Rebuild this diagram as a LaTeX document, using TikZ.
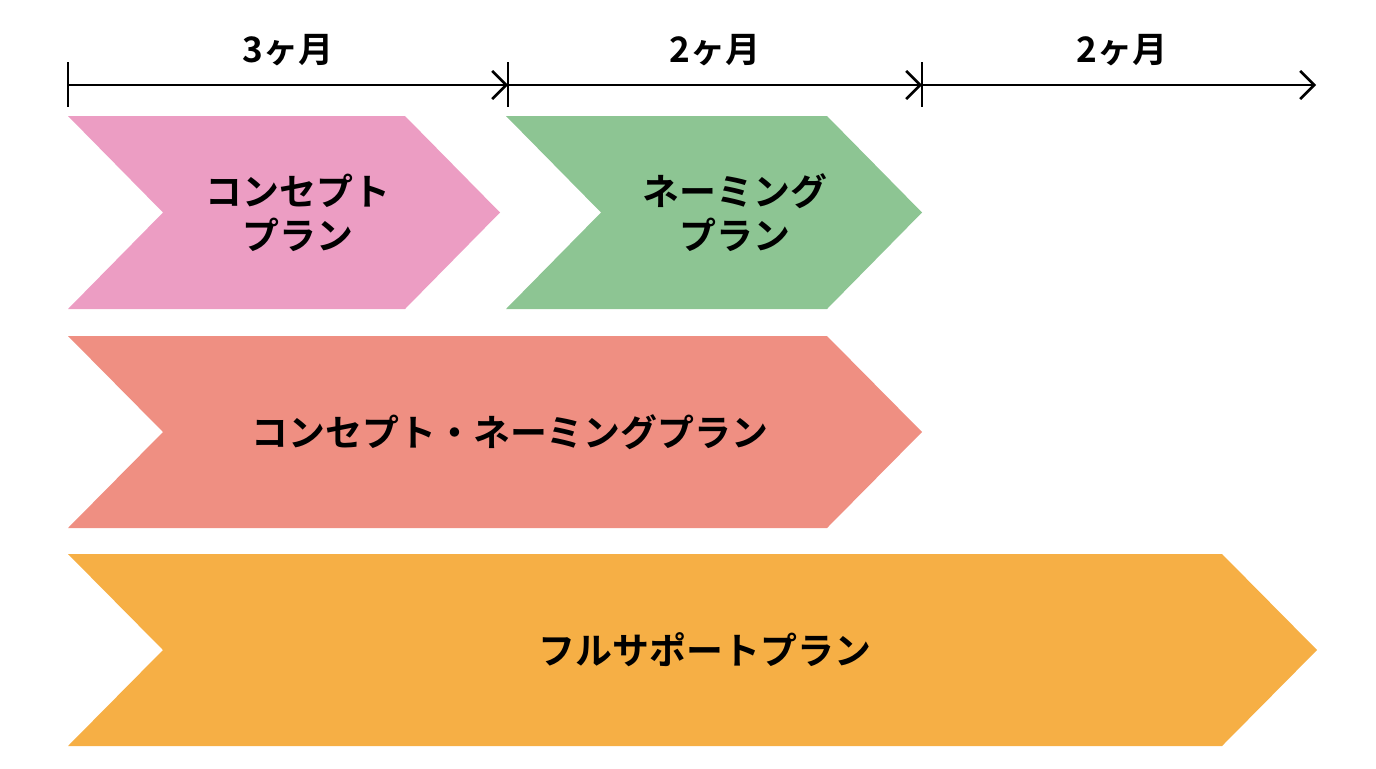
\documentclass[tikz,border=0pt]{standalone}
\usepackage{fontspec}
\newfontfamily\jpfont{Noto Sans CJK JP}[BoldFont={* Bold}]
\usetikzlibrary{arrows.meta,positioning}
\definecolor{planpink}{HTML}{EC9DC3}
\definecolor{plangreen}{HTML}{8DC593}
\definecolor{plansalmon}{HTML}{EF8F82}
\definecolor{planorange}{HTML}{F6AF45}
\tikzset{
  planlabel/.style={font=\jpfont\bfseries\fontsize{21}{25}\selectfont, align=center, text=black},
  monthlabel/.style={font=\jpfont\bfseries\fontsize{20}{24}\selectfont},
  timeline/.style={line width=1.5pt, -{Straight Barb[length=8pt,width=16pt]}}
}
% chevron: left, right corner, top, bottom, colour
\newcommand{\planchevron}[5]{%
  \fill[#5] (#1,#3) -- (#2,#3) -- ({#2+95},{(#3+#4)/2}) -- (#2,#4) -- (#1,#4)
    -- ({#1+95},{(#3+#4)/2}) -- cycle;}
\begin{document}
\begin{tikzpicture}[x=0.02cm,y=-0.02cm]
\useasboundingbox (0,0) rectangle (1376,768);
% time line
\coordinate (t0) at (68,85);
\coordinate (t1) at (508,85);
\coordinate (t2) at (922,85);
\coordinate (t3) at (1316,85);
\draw[timeline] (t0) -- (t1);
\draw[timeline] (t1) -- (t2);
\draw[timeline] (t2) -- (t3);
\draw[line width=1.5pt] (68,62) -- (68,107);
\draw[line width=1.5pt] (508,62) -- (508,107);
\draw[line width=1.5pt] (922,62) -- (922,107);
\node[monthlabel] (m1) at (288,50) {3ヶ月};
\node[monthlabel] (m2) at (715,50) {2ヶ月};
\node[monthlabel] (m3) at (1122,50) {2ヶ月};
% plans
\planchevron{68}{405}{116}{309}{planpink}
\planchevron{506}{827}{116}{309}{plangreen}
\planchevron{68}{827}{336}{528}{plansalmon}
\planchevron{68}{1222}{554}{746}{planorange}
\node[planlabel] (concept) at (298,213) {コンセプト\\プラン};
\node[planlabel] (naming) at (735,213) {ネーミング\\プラン};
\node[planlabel] (both) at (510,432) {コンセプト・ネーミングプラン};
\node[planlabel] (full) at (705,650) {フルサポートプラン};
\end{tikzpicture}
\end{document}
